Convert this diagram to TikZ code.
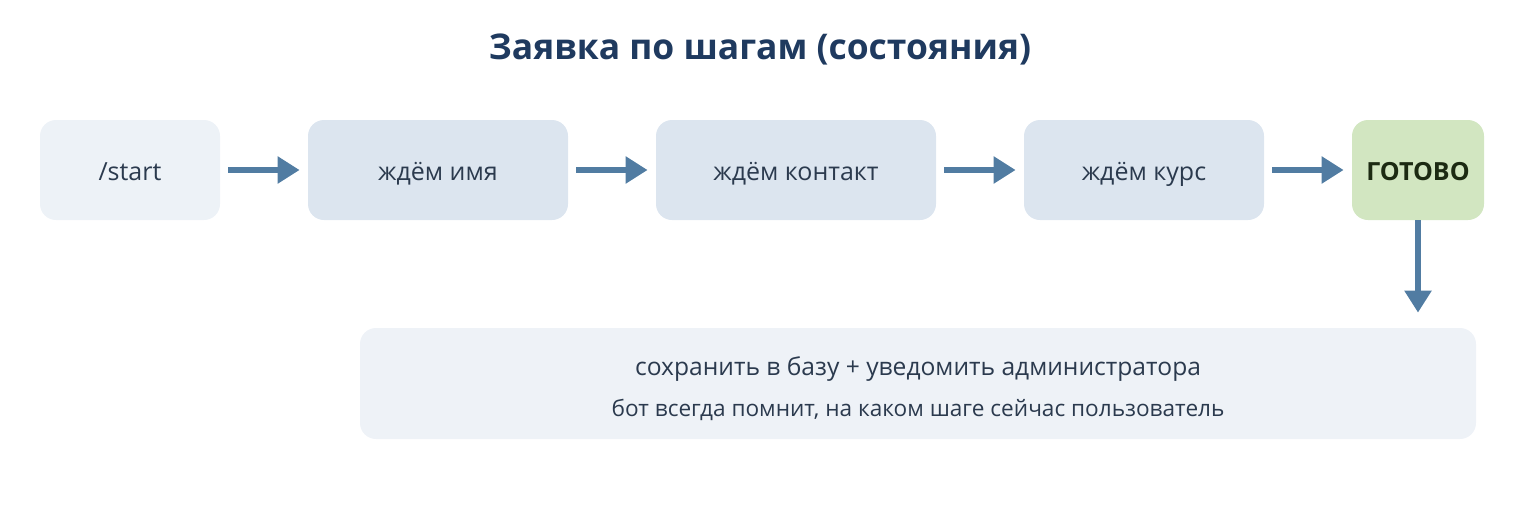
\documentclass[tikz,border=0pt]{standalone}
\usepackage{fontspec}
\setmainfont{Open Sans}
\usepackage{xcolor}
\usetikzlibrary{arrows.meta}
\definecolor{titlecol}{HTML}{1F3A5F}
\definecolor{textcol}{HTML}{2B3A4E}
\definecolor{startfill}{HTML}{EDF2F7}
\definecolor{statefill}{HTML}{DCE5EF}
\definecolor{donefill}{HTML}{D2E6C1}
\definecolor{donetext}{HTML}{1C2A12}
\definecolor{arrowcol}{HTML}{517CA2}
\definecolor{notefill}{HTML}{EEF2F7}

\begin{document}
\begin{tikzpicture}[x=0.5pt,y=-0.5pt,
  statebox/.style={rounded corners=8pt,inner sep=0pt,minimum height=50pt,
    text height=13pt,text depth=2.3pt,
    fill=statefill,text=textcol,font=\fontsize{12.5}{15}\selectfont},
  flow/.style={-{Triangle[length=11pt,width=13pt]},line width=3pt,draw=arrowcol,
    shorten <=4pt,shorten >=4pt}]
  \useasboundingbox (0,0) rectangle (1520,520);
%%
% Title
  \node[text=titlecol,font=\fontsize{17.7}{21}\bfseries] (title) at (760,49) {Заявка по шагам (состояния)};
% States
  \node[statebox,fill=startfill,minimum width=90pt] (start) at (130,170) {/start};
  \node[statebox,minimum width=130pt] (name) at (438,170) {ждём имя};
  \node[statebox,minimum width=140pt] (contact) at (796,170) {ждём контакт};
  \node[statebox,minimum width=120pt] (course) at (1144,170) {ждём курс};
  \node[statebox,fill=donefill,text=donetext,minimum width=66pt,
    font=\fontsize{12.5}{15}\bfseries] (done) at (1418,170) {ГОТОВО};
% Note
  \node[rounded corners=8pt,inner sep=0pt,minimum width=558pt,minimum height=55.5pt,
    fill=notefill,text=textcol] (note) at (918,383.5) {};
  \node[text=textcol,font=\fontsize{12.3}{15}\selectfont] (save) at (918,369) {сохранить в базу + уведомить администратора};
  \node[text=textcol,font=\fontsize{11.3}{13}\selectfont] (hint) at (918,410) {бот всегда помнит, на каком шаге сейчас пользователь};
% Edges
  \draw[flow] (start) -- (name);
  \draw[flow] (name) -- (contact);
  \draw[flow] (contact) -- (course);
  \draw[flow] (course) -- (done);
  \draw[flow,shorten <=0pt,shorten >=7.5pt] (done) -- (done |- note.north);
%
\end{tikzpicture}
\end{document}
